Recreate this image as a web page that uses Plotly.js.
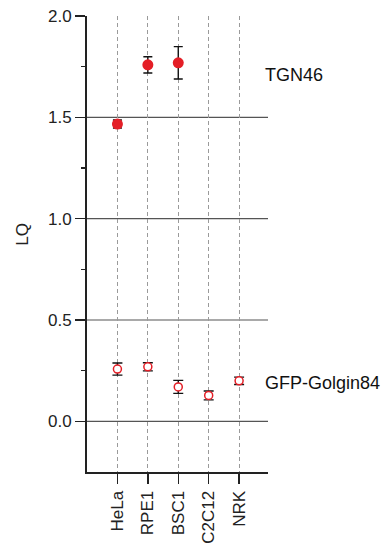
<!DOCTYPE html>
<html>
<head>
<meta charset="utf-8">
<script src="https://cdn.plot.ly/plotly-3.0.1.min.js"></script>
<style>html,body{margin:0;padding:0;background:#fff;}#chart{width:385px;height:545px;}</style>
</head>
<body>
<div id="chart"></div>
<script>
const cellLines = ['HeLa', 'RPE1', 'BSC1', 'C2C12', 'NRK'];
const tgn46Cells = ['HeLa', 'RPE1', 'BSC1'];
const tgn46Values = [1.467, 1.759, 1.769];
const tgn46Errors = [0.02, 0.04, 0.08];
const golginValues = [0.258, 0.269, 0.170, 0.128, 0.200];
const golginErrors = [0.03, 0.02, 0.032, 0.022, 0.018];
const gridValues = [0, 0.5, 1.0, 1.5];
const minorTickValues = [0.25, 0.75, 1.25, 1.75];
const yRange = [-0.25, 2.0];

const red = '#e41e26';
const font = 'Liberation Sans, Arial, sans-serif';

const traces = [
  {
    x: [null], y: [null], type: 'scatter', mode: 'markers', yaxis: 'y2',
    hoverinfo: 'skip', showlegend: false
  },
  {
    x: tgn46Cells, y: tgn46Values, type: 'scatter', mode: 'markers',
    marker: {color: red, size: 11},
    error_y: {type: 'data', array: tgn46Errors, color: '#111', thickness: 1.4, width: 4.5},
    cliponaxis: false, showlegend: false
  },
  {
    x: cellLines, y: golginValues, type: 'scatter', mode: 'markers',
    marker: {color: '#fff', size: 8, line: {color: red, width: 1.5}},
    error_y: {type: 'data', array: golginErrors, color: '#111', thickness: 1.4, width: 5},
    cliponaxis: false, showlegend: false
  }
];

const shapes = gridValues.map(v => ({
  type: 'line', xref: 'paper', yref: 'y', x0: 0, x1: 1, y0: v, y1: v,
  line: {color: '#555', width: 1.2}, layer: 'below'
}));

const layout = {
  width: 385, height: 545,
  margin: {l: 87, r: 117, t: 16, b: 73},
  paper_bgcolor: '#fff', plot_bgcolor: '#fff',
  font: {family: font, color: '#222', size: 17},
  xaxis: {
    type: 'category', categoryorder: 'array', categoryarray: cellLines,
    range: [-1, 4.95], showline: true, linecolor: '#222', linewidth: 2,
    ticks: 'outside', ticklen: 10, tickwidth: 1.5, tickcolor: '#222',
    tickangle: -90, tickfont: {size: 17, family: font, color: '#222'},
    showgrid: true, gridcolor: '#9a9a9a', griddash: '4px,3px', gridwidth: 1,
    zeroline: false, fixedrange: true
  },
  yaxis: {
    range: yRange, showline: true, linecolor: '#222', linewidth: 2,
    tickmode: 'linear', tick0: 0, dtick: 0.5, tickformat: '.1f',
    ticks: 'outside', ticklen: 10, tickwidth: 1.5, tickcolor: '#222',
    tickfont: {size: 17, family: font, color: '#222'},
    showgrid: false, zeroline: false, fixedrange: true
  },
  yaxis2: {
    range: yRange, overlaying: 'y', side: 'left', anchor: 'x',
    tickmode: 'array', tickvals: minorTickValues, showticklabels: false,
    ticks: 'outside', ticklen: 5, tickwidth: 1.5, tickcolor: '#222',
    showline: false, showgrid: false, zeroline: false, fixedrange: true
  },
  shapes: shapes,
  annotations: [
    {text: 'TGN46', xref: 'paper', yref: 'y', x: 0.972, y: 1.71, xanchor: 'left', yanchor: 'middle', showarrow: false, font: {size: 18, family: font, color: '#111'}},
    {text: 'GFP-Golgin84', xref: 'paper', yref: 'y', x: 0.972, y: 0.188, xanchor: 'left', yanchor: 'middle', showarrow: false, font: {size: 18, family: font, color: '#111'}},
    {text: 'LQ', xref: 'paper', yref: 'paper', x: -0.355, y: 0.522, xanchor: 'center', yanchor: 'middle', textangle: -90, showarrow: false, font: {size: 17, family: font, color: '#222'}}
  ]
};

Plotly.newPlot('chart', traces, layout, {staticPlot: true, displayModeBar: false});
</script>
</body>
</html>
